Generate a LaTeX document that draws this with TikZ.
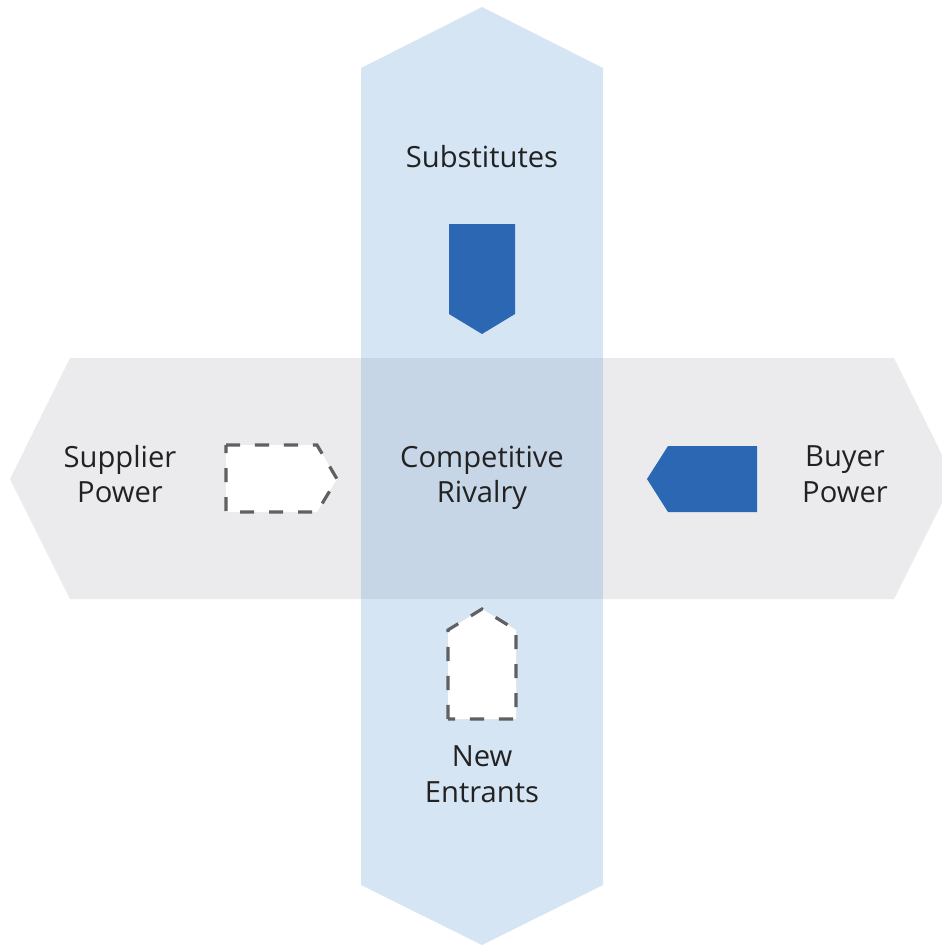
\documentclass[tikz,border=0pt]{standalone}
\usepackage{fontspec}
\setmainfont{Open Sans}
\usepackage{tikz}
\definecolor{colorVert}{HTML}{D6E5F4}
\definecolor{colorHoriz}{HTML}{EBEBED}
\definecolor{colorCore}{HTML}{C7D6E7}
\definecolor{colorForce}{HTML}{2B67B2}
\definecolor{colorWeak}{HTML}{606060}
\definecolor{colorText}{HTML}{222222}
\usetikzlibrary{positioning}
\tikzset{
   band/.style={draw=none},
   strong/.style={fill=colorForce,draw=none},
   weak/.style={fill=white,draw=colorWeak,line width=1.8pt,dash pattern=on 8pt off 8.5pt},
   force/.style={align=center,text=colorText,font=\fontsize{16.6}{20.2}\selectfont},
}

\begin{document}
\begin{tikzpicture}[x=0.02cm,y=-0.02cm]

        \clip (0,0) rectangle (942,948);

        % the two bands and their overlap
        \fill[band,colorHoriz] (70,358) -- (894,358) -- (954,479) -- (894,599)
             -- (70,599) -- (10,479) -- cycle;
        \fill[band,colorVert] (361,68) -- (482,7) -- (603,68) -- (603,885)
             -- (482,945) -- (361,885) -- cycle;
        \fill[band,colorCore] (361,358) rectangle (603,599);

        % arrows towards the centre
        \fill[strong] (449,224) -- (515,224) -- (515,314) -- (482,334) -- (449,314) -- cycle;
        \fill[strong] (757,446) -- (757,512) -- (668,512) -- (647,479) -- (668,446) -- cycle;
        \draw[weak] (226,445) -- (317,445) -- (337,479) -- (317,512) -- (226,512) -- cycle;
        \draw[weak] (448,719) -- (448,630) -- (482,609) -- (516,630) -- (516,719) -- cycle;

        \node[force] (rivalry) at (482,478) {Competitive\\Rivalry};
        \node[force] (subst) at (482,157) {Substitutes};
        \node[force] (supplier) at (120,474) {Supplier\\Power};
        \node[force] (buyer) at (845,474) {Buyer\\Power};
        \node[force] (entrants) at (482,774) {New\\Entrants};

      \end{tikzpicture}
\end{document}
